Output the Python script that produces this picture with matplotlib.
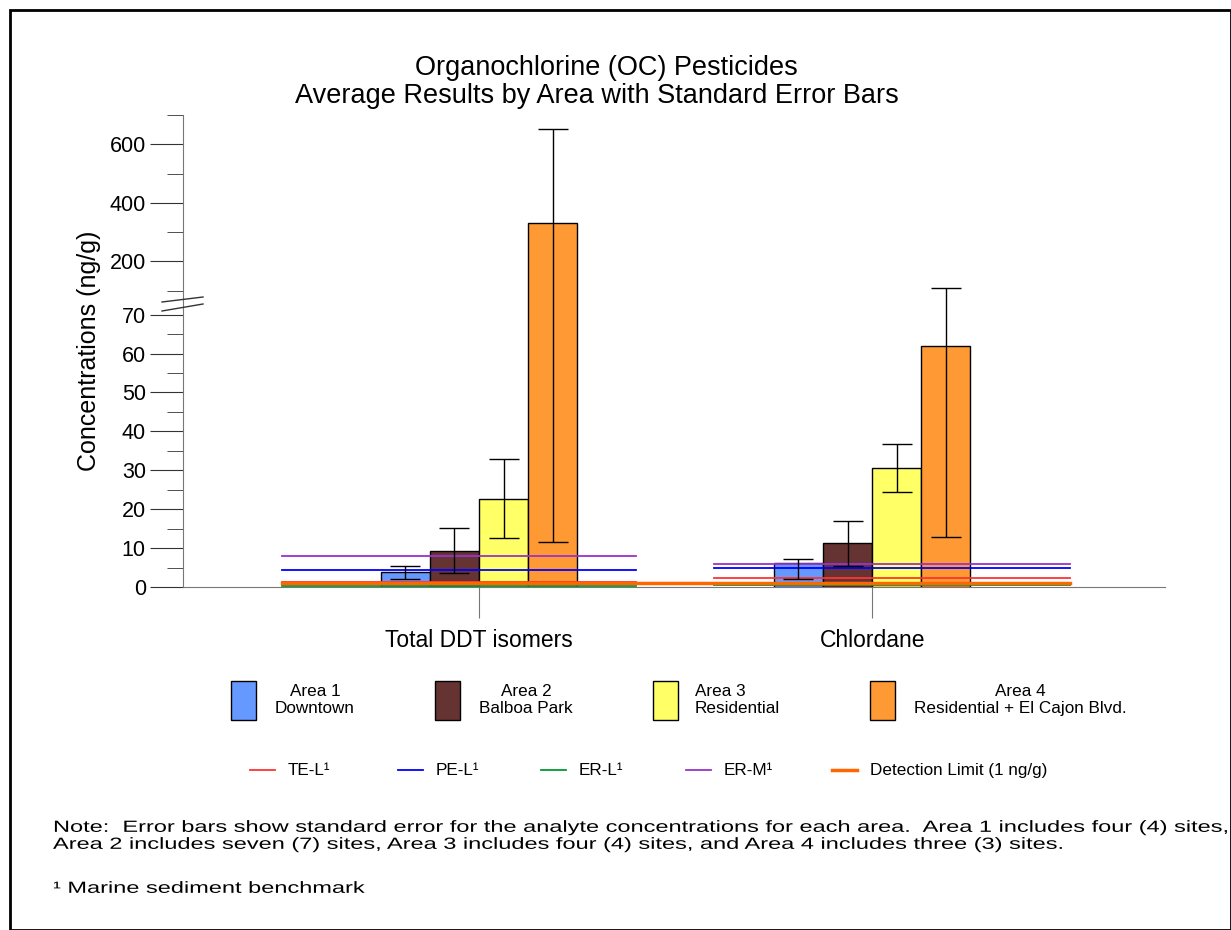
import numpy as np
import matplotlib
matplotlib.use('Agg')
import matplotlib.pyplot as plt
from matplotlib.patches import Rectangle, PathPatch
from matplotlib.lines import Line2D
from matplotlib.textpath import TextPath
from matplotlib.font_manager import FontProperties
from matplotlib.transforms import Affine2D

plt.rcParams['font.family'] = ['Liberation Sans', 'DejaVu Sans']

categories = ["Total DDT isomers", "Chlordane"]
areas = ["Area 1\nDowntown", "Area 2\nBalboa Park", "Area 3\nResidential",
         "Area 4\nResidential + El Cajon Blvd."]
area_colors = ["#6699ff", "#663333", "#ffff66", "#ff9933"]
# mean, upper cap, lower cap per area, [DDT, Chlordane]
means = [[3.9, 6.2], [9.3, 11.3], [22.6, 30.6], [330, 62.0]]
err_hi = [[5.4, 7.2], [15.2, 17.0], [32.9, 36.8], [651, 110]]
err_lo = [[2.0, 2.0], [3.6, 5.4], [12.6, 24.4], [11.6, 12.9]]

bench_names = ["TE-L\u00b9", "PE-L\u00b9", "ER-L\u00b9", "ER-M\u00b9"]
bench_colors = ["#ff3333", "#0000ff", "#009933", "#9933cc"]
bench_ddt = [1.2, 4.4, 0.2, 8.0]
bench_chl = [2.3, 4.8, 0.5, 6.0]
detection = 1.0

note_lines = [
    "Note:  Error bars show standard error for the analyte concentrations for each area.  Area 1 includes four (4) sites,",
    "Area 2 includes seven (7) sites, Area 3 includes four (4) sites, and Area 4 includes three (3) sites.",
]
footnote = "\u00b9 Marine sediment benchmark"

# broken axis: linear 0-70, then compressed 100-700
K = 0.0752
def fwd(y):
    y = np.asarray(y, dtype=float)
    return np.where(y <= 70, y,
                    np.where(y <= 100, 70 + (y - 70) * 6.2 / 30, 76.2 + (y - 100) * K))
def inv(v):
    v = np.asarray(v, dtype=float)
    return np.where(v <= 70, v,
                    np.where(v <= 76.2, 70 + (v - 70) * 30 / 6.2, 100 + (v - 76.2) / K))

W, H = 1231, 930
fig = plt.figure(figsize=(W / 100, H / 100), dpi=100)
ax = fig.add_axes([183 / W, 1 - 587 / H, 982 / W, 472 / H])
ax.set_yscale('function', functions=(fwd, inv))
ax.set_ylim(0, 700)
ax.set_xlim(-0.753, 1.745)

x = np.arange(len(categories))
bw = 0.125
for i in range(4):
    xs = x + (i - 1.5) * bw
    m = np.array(means[i])
    ax.bar(xs, m, bw, color=area_colors[i], edgecolor='black', linewidth=1, zorder=2)
    ax.errorbar(xs, m, yerr=[m - np.array(err_lo[i]), np.array(err_hi[i]) - m],
                fmt='none', ecolor='black', elinewidth=1, capsize=11, capthick=1, zorder=4)

for j in range(4):
    ax.plot([-0.50, 0.40], [bench_ddt[j]] * 2, color=bench_colors[j], lw=1.3, zorder=3)
    ax.plot([0.598, 1.504], [bench_chl[j]] * 2, color=bench_colors[j], lw=1.3, zorder=3)
ax.plot([-0.50, 1.504], [detection] * 2, color='#ff6600', lw=2.5, zorder=3)

for s in ['top', 'right']:
    ax.spines[s].set_visible(False)
for s in ['left', 'bottom']:
    ax.spines[s].set_color('#777777')
ax.set_xticks(x)
ax.set_xticklabels(categories, fontsize=16.5)
ax.tick_params(axis='x', length=22, color='#777777', pad=8)
ax.set_yticks([0, 10, 20, 30, 40, 50, 60, 70, 200, 400, 600])
ax.set_yticklabels(['0', '10', '20', '30', '40', '50', '60', '70', '200', '400', '600'], fontsize=15.5)
ax.set_yticks([5, 15, 25, 35, 45, 55, 65, 100, 300, 500, 700], minor=True)
ax.tick_params(axis='y', which='major', length=23.8, color='#333333', pad=3)
ax.tick_params(axis='y', which='minor', length=11.5, color='#333333')
ax.set_ylabel("Concentrations (ng/g)", fontsize=18, labelpad=6)

def fx(px):
    return px / W
def fy(py):
    return 1 - py / H

# axis break marks
fig.add_artist(Line2D([fx(162), fx(203)], [fy(302), fy(297)], color='#333333', lw=1))
fig.add_artist(Line2D([fx(162), fx(203)], [fy(311), fy(304)], color='#333333', lw=1))

fig.text(fx(606), fy(68), "Organochlorine (OC) Pesticides", ha='center', va='center', fontsize=19.5)
fig.text(fx(597), fy(96), "Average Results by Area with Standard Error Bars", ha='center', va='center', fontsize=19.5)

# legend: areas
box_x = [231, 435, 653, 870]
txt_x = [315, 526, 695, 1020]
txt_ha = ['center', 'center', 'left', 'center']
for i in range(4):
    fig.add_artist(Rectangle((fx(box_x[i]), fy(720)), 25 / W, 39 / H, facecolor=area_colors[i],
                             edgecolor='black', lw=1))
    fig.text(fx(txt_x[i]), fy(700), areas[i], ha=txt_ha[i], va='center', fontsize=12.3,
             linespacing=1.2, multialignment=txt_ha[i])

# legend: lines
ln_x = [250, 398, 541, 686, 832]
names = bench_names + ["Detection Limit (1 ng/g)"]
cols = bench_colors + ['#ff6600']
for k in range(5):
    fig.add_artist(Line2D([fx(ln_x[k]), fx(ln_x[k] + 25)], [fy(770)] * 2, color=cols[k],
                          lw=2.5 if k == 4 else 1.3))
    fig.text(fx(ln_x[k] + 38), fy(770), names[k], ha='left', va='center', fontsize=12.3)

# note text is horizontally stretched in the original
fp = FontProperties(family='Liberation Sans')
size_px = 16.2
ref = TextPath((0, 0), note_lines[0], size=size_px, prop=fp).get_extents().width
sx = (1225 - 53) / ref

def stretched(s, x0, yc):
    tp = TextPath((0, 0), s, size=size_px, prop=fp)
    tr = Affine2D().scale(sx, 1).translate(x0, H - yc - size_px * 0.36)
    fig.add_artist(PathPatch(tp, transform=tr, facecolor='black', lw=0))

stretched(note_lines[0], 53, 826)
stretched(note_lines[1], 53, 843)
stretched(footnote, 53, 887)

fig.add_artist(Rectangle((fx(10), 0), 1 - fx(10), fy(10), fill=False, edgecolor='black', lw=2))

fig.savefig("out.png", dpi=100)
